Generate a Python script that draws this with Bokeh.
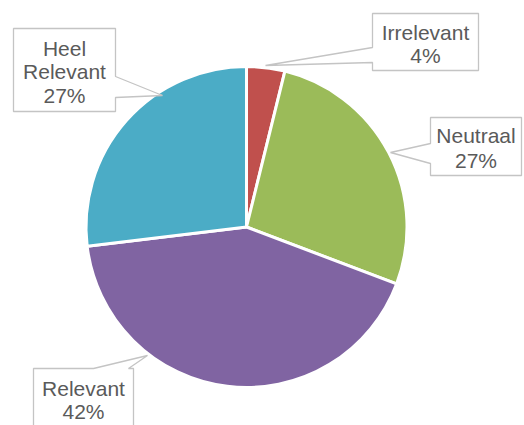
import math
from bokeh.plotting import figure
from bokeh.models import Range1d
from bokeh.core.properties import value
from bokeh.embed import file_html
from bokeh.resources import INLINE

# Data (counts giving 4%, 27%, 42%, 27%)
categories = ["Irrelevant", "Neutraal", "Relevant", "Heel Relevant"]
counts = [1, 7, 11, 7]
colors = ["#C0504D", "#9BBB59", "#8064A2", "#4BACC6"]

W, H = 524, 425
p = figure(width=W, height=H, output_backend="svg", toolbar_location=None,
           x_range=Range1d(0, W), y_range=Range1d(0, H), min_border=0)
p.axis.visible = False
p.grid.visible = False
p.outline_line_color = None
p.background_fill_color = "white"
p.border_fill_color = "white"

def Y(py):
    return H - py

cx, cy, r = 246, 226.5, 160.5
total = sum(counts)
start = math.pi / 2
starts, ends = [], []
for c in counts:
    a = 2 * math.pi * c / total
    starts.append(start - a)
    ends.append(start)
    start -= a

p.wedge(x=[cx] * len(counts), y=[Y(cy)] * len(counts), radius=r,
        start_angle=starts, end_angle=ends, direction="anticlock",
        fill_color=colors, line_color="white", line_width=3)

pcts = [f"{round(100 * c / total)}%" for c in counts]

# Callout layouts (pixel coords): box (l, t, r, b), pointer side, base (a, b), tip
callouts = {
    "Irrelevant": dict(box=(372, 13, 478, 70), side="left", base=(47, 62), tip=(265, 65),
                       lines=[32, 55]),
    "Neutraal": dict(box=(430, 117, 521, 175), side="left", base=(143, 163), tip=(390, 152),
                     lines=[135, 160]),
    "Relevant": dict(box=(33, 368, 133, 440), side="top", base=(93, 128), tip=(147, 355),
                     lines=[388, 411]),
    "Heel Relevant": dict(box=(13, 28, 115, 111), side="right", base=(76, 97), tip=(162, 95),
                          lines=[48, 71, 95]),
}

for cat, pct in zip(categories, pcts):
    c = callouts[cat]
    l, t, rr, b = c["box"]
    a1, a2 = c["base"]
    tx, ty = c["tip"]
    if c["side"] == "left":
        pts = [(l, t), (rr, t), (rr, b), (l, b), (l, a2), (tx, ty), (l, a1)]
    elif c["side"] == "right":
        pts = [(l, t), (rr, t), (rr, a1), (tx, ty), (rr, a2), (rr, b), (l, b)]
    else:  # top
        pts = [(l, t), (a1, t), (tx, ty), (a2, t), (rr, t), (rr, b), (l, b)]
    p.patch([q[0] for q in pts], [Y(q[1]) for q in pts], fill_color="white",
            line_color="#C4C4C4", line_width=1.3)
    words = cat.split(" ") if cat == "Heel Relevant" else [cat]
    texts = words + [pct]
    xc = (l + rr) / 2
    p.text(x=[xc] * len(texts), y=[Y(v) for v in c["lines"]], text=texts,
           text_align="center", text_baseline="middle",
           text_font=value("Liberation Sans"), text_font_size="21px",
           text_color="#5A5A5A")

open("out.html", "w").write(file_html(p, INLINE))
